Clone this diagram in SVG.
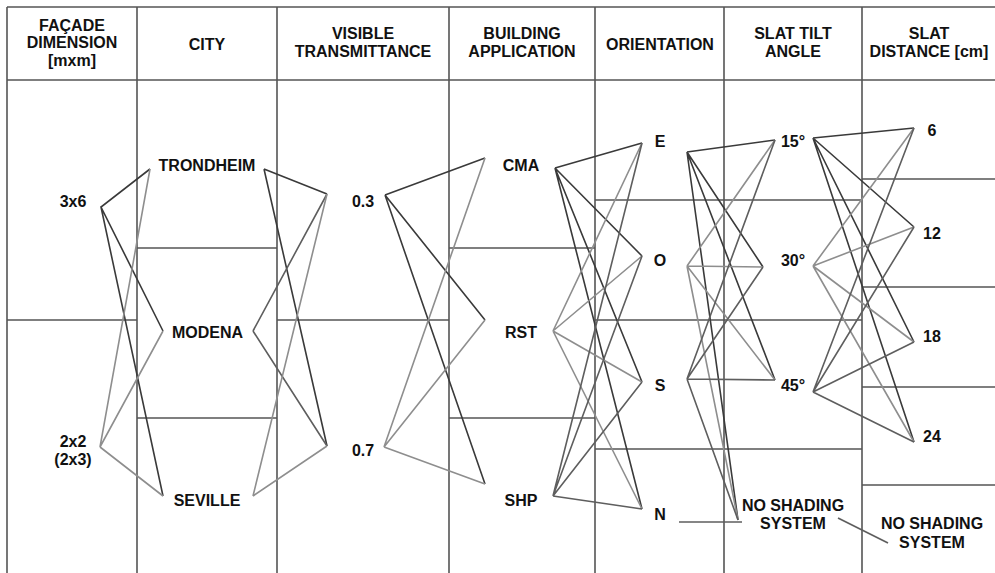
<svg xmlns="http://www.w3.org/2000/svg" width="995" height="573" viewBox="0 0 995 573">
<style>
.g{stroke:#555;stroke-width:1.6;fill:none}
.t{font-family:"Liberation Sans",Arial,sans-serif;font-weight:bold;font-size:16px;fill:#111;text-anchor:middle}
.d{stroke:#3a3a3a;stroke-width:1.6;fill:none}
.m{stroke:#5e5e5e;stroke-width:1.6;fill:none}
.l{stroke:#8e8e8e;stroke-width:1.6;fill:none}
</style>
<rect width="995" height="573" fill="#fff"/>
<g id="grid">
<path class="g" d="M7,7H995M7,80H995M7,7V573M137,7V573M277,7V573M449,7V573M595,7V573M724,7V573M862,7V573"/>
<path class="g" d="M7,320H137M137,248H277M137,418H277M277,320H449M449,248H595M449,418H595M595,200H862M595,320H862M595,449H862M862,179H995M862,287H995M862,387H995M862,485H995"/>
</g>
<g id="headers">
<text class="t" x="72" y="31">FAÇADE</text>
<text class="t" x="72" y="48">DIMENSION</text>
<text class="t" x="72" y="65.5">[mxm]</text>
<text class="t" x="207" y="50">CITY</text>
<text class="t" x="363" y="39">VISIBLE</text>
<text class="t" x="363" y="57">TRANSMITTANCE</text>
<text class="t" x="522" y="39">BUILDING</text>
<text class="t" x="522" y="57">APPLICATION</text>
<text class="t" x="660" y="50">ORIENTATION</text>
<text class="t" x="793" y="39">SLAT TILT</text>
<text class="t" x="793" y="57">ANGLE</text>
<text class="t" x="929" y="39">SLAT</text>
<text class="t" x="929" y="57">DISTANCE [cm]</text>
</g>
<g id="connectors">
<path class="d" d="M150,169L101,207L163,331M101,207L163,496"/>
<path class="l" d="M150,169L100,447L163,331M100,447L163,496"/>
<path class="d" d="M264,169L327,194M264,169L327,446"/>
<path class="m" d="M253,331L327,194M253,331L327,446"/>
<path class="l" d="M253,496L327,194M253,496L327,446"/>
<path class="d" d="M385,195L485,158M385,195L485,320M385,195L485,484"/>
<path class="l" d="M384,447L485,158M384,447L485,320M384,447L485,484"/>
<path class="d" d="M555,168L642,143M555,168L642,256M555,168L642,382M555,168L642,509"/>
<path class="l" d="M553,331L642,143M553,331L642,256M553,331L642,382M553,331L642,509"/>
<path class="m" d="M553,496L642,143M553,496L642,256M553,496L642,382M553,496L642,509"/>
<path class="d" d="M687,152L775,140M687,152L763,267M687,152L775,380M687,152L738,520"/>
<path class="l" d="M687,266L775,140M687,266L763,267M687,266L775,380M687,266L738,520"/>
<path class="m" d="M687,379L775,140M687,379L763,267M687,379L775,380M687,379L738,520"/>
<path class="m" d="M679,522L742,522"/>
<path class="d" d="M813,138L914,128M813,138L914,227M813,138L914,342M813,138L914,442"/>
<path class="l" d="M813,266L914,128M813,266L914,227M813,266L914,342M813,266L914,442"/>
<path class="m" d="M813,392L914,128M813,392L914,227M813,392L914,342M813,392L914,442"/>
<path class="m" d="M838,518L888,543"/>
</g>
<g id="n-3x6"><text class="t" x="73" y="207">3x6</text></g>
<g id="n-2x2"><text class="t" x="73" y="447">2x2</text><text class="t" x="73" y="465">(2x3)</text></g>
<g id="n-trondheim"><text class="t" x="207" y="171">TRONDHEIM</text></g>
<g id="n-modena"><text class="t" x="207.5" y="338">MODENA</text></g>
<g id="n-seville"><text class="t" x="207" y="506">SEVILLE</text></g>
<g id="n-vt03"><text class="t" x="363" y="207">0.3</text></g>
<g id="n-vt07"><text class="t" x="363" y="456">0.7</text></g>
<g id="n-cma"><text class="t" x="521" y="171">CMA</text></g>
<g id="n-rst"><text class="t" x="521" y="338">RST</text></g>
<g id="n-shp"><text class="t" x="521" y="506">SHP</text></g>
<g id="n-e"><text class="t" x="660" y="147">E</text></g>
<g id="n-o"><text class="t" x="660" y="266">O</text></g>
<g id="n-s"><text class="t" x="660" y="391">S</text></g>
<g id="n-n"><text class="t" x="660" y="520">N</text></g>
<g id="n-15"><text class="t" x="793" y="147">15°</text></g>
<g id="n-30"><text class="t" x="793" y="266">30°</text></g>
<g id="n-45"><text class="t" x="793" y="391">45°</text></g>
<g id="n-noshade1"><text class="t" x="793" y="511">NO SHADING</text><text class="t" x="793" y="529">SYSTEM</text></g>
<g id="n-6"><text class="t" x="932" y="136">6</text></g>
<g id="n-12"><text class="t" x="932" y="239">12</text></g>
<g id="n-18"><text class="t" x="932" y="342">18</text></g>
<g id="n-24"><text class="t" x="932" y="442">24</text></g>
<g id="n-noshade2"><text class="t" x="932" y="529">NO SHADING</text><text class="t" x="932" y="548">SYSTEM</text></g>
</svg>
